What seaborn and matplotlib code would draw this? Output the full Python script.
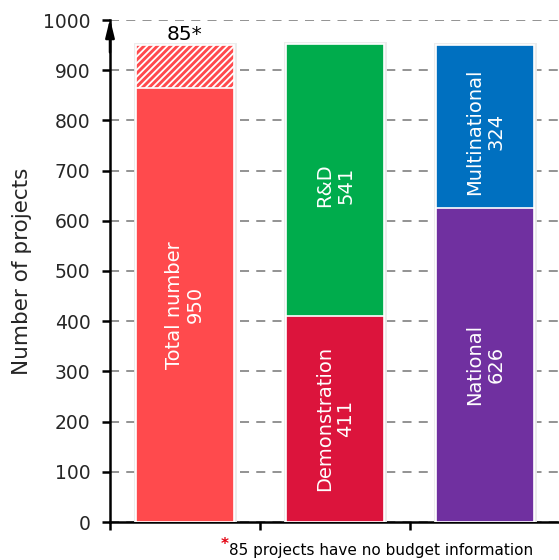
import numpy as np
import pandas as pd
import seaborn as sns
import matplotlib.pyplot as plt
import matplotlib.patheffects as pe

# bar data
groups = ['Total', 'Type', 'Scope']
lower_names = ['Total number', 'Demonstration', 'National']
lower_vals = [865, 411, 626]
upper_names = ['', 'R&D', 'Multinational']
upper_vals = [85, 541, 324]
label_vals = [950, 411, 626]
upper_label_vals = [85, 541, 324]

lower_colors = ['#ff4a4d', '#dc143c', '#7030a0']
upper_colors = ['#ff4a4d', '#00ac4c', '#0070c0']

sns.set_theme(style='white')
plt.rcParams['font.family'] = ['DejaVu Sans']
plt.rcParams['hatch.color'] = '#ffe0e0'
plt.rcParams['hatch.linewidth'] = 1.3

df = pd.DataFrame({'group': groups,
                   'lower': lower_vals,
                   'total': np.array(lower_vals) + np.array(upper_vals)})

fig = plt.figure(figsize=(5.59, 5.60), dpi=100)
ax = fig.add_axes([110 / 559, 38 / 560, 450 / 559, 502 / 560])

shadow = [pe.Stroke(linewidth=3.5, foreground='#ebebeb'), pe.Normal()]

sns.barplot(data=df, x='group', y='total', hue='group', palette=upper_colors,
            saturation=1, width=0.65, legend=False, ax=ax, zorder=3,
            edgecolor='white', linewidth=1.2)
for p in ax.patches:
    p.set_path_effects(shadow)
sns.barplot(data=df, x='group', y='lower', hue='group', palette=lower_colors,
            saturation=1, width=0.65, legend=False, ax=ax, zorder=4,
            edgecolor='white', linewidth=1.2)

# hatched part of total bar (no budget info)
ax.patches[0].set_hatch('/////')

ax.set_xlim(-0.5, 2.5)
ax.set_ylim(0, 1000)
ax.set_yticks(np.arange(0, 1001, 100))
ax.set_xticks([-0.5, 0.5, 1.5, 2.5])
ax.set_xticklabels([])
ax.set_xlabel('')
ax.set_ylabel('Number of projects', fontsize=15.5, labelpad=8)
ax.tick_params(axis='y', labelsize=13.5, length=6, width=1.8, color='black',
               direction='out', left=True, pad=8)
ax.tick_params(axis='x', length=6, width=1.8, color='black', direction='out', bottom=True)
ax.yaxis.grid(True, linestyle=(0, (5, 4)), color='#8a8a8a', linewidth=1.3, zorder=0)
ax.set_axisbelow(True)

for s in ['top', 'right']:
    ax.spines[s].set_visible(False)
for s in ['left', 'bottom']:
    ax.spines[s].set_color('black')
    ax.spines[s].set_linewidth(1.8)

# arrow on y axis
ax.annotate('', xy=(0, 1.008), xytext=(0, 0.93), xycoords='axes fraction',
            arrowprops=dict(arrowstyle='-|>,head_length=0.9,head_width=0.22',
                            color='black', lw=1.8), annotation_clip=False)

# labels inside bars
for i in range(3):
    ax.text(i, lower_vals[i] / 2, f'{lower_names[i]}\n{label_vals[i]}',
            rotation=90, ha='center', va='center', color='white',
            fontsize=14, linespacing=1.15, zorder=6)
    if upper_names[i]:
        ax.text(i, lower_vals[i] + upper_vals[i] / 2 - 10,
                f'{upper_names[i]}\n{upper_label_vals[i]}',
                rotation=90, ha='center', va='center', color='white',
                fontsize=14, linespacing=1.15, zorder=6)

ax.text(0, 972, f'{upper_label_vals[0]}*', ha='center', va='center',
        fontsize=14.5, color='black')

fig.text(229 / 559, 1 - 550 / 560, '85 projects have no budget information',
         fontsize=11, ha='left', va='center', color='black')
fig.text(221 / 559, 1 - 545 / 560, '*', fontsize=11, fontweight='bold',
         ha='left', va='center', color='#e3000f')

fig.savefig('out.png', dpi=100)
